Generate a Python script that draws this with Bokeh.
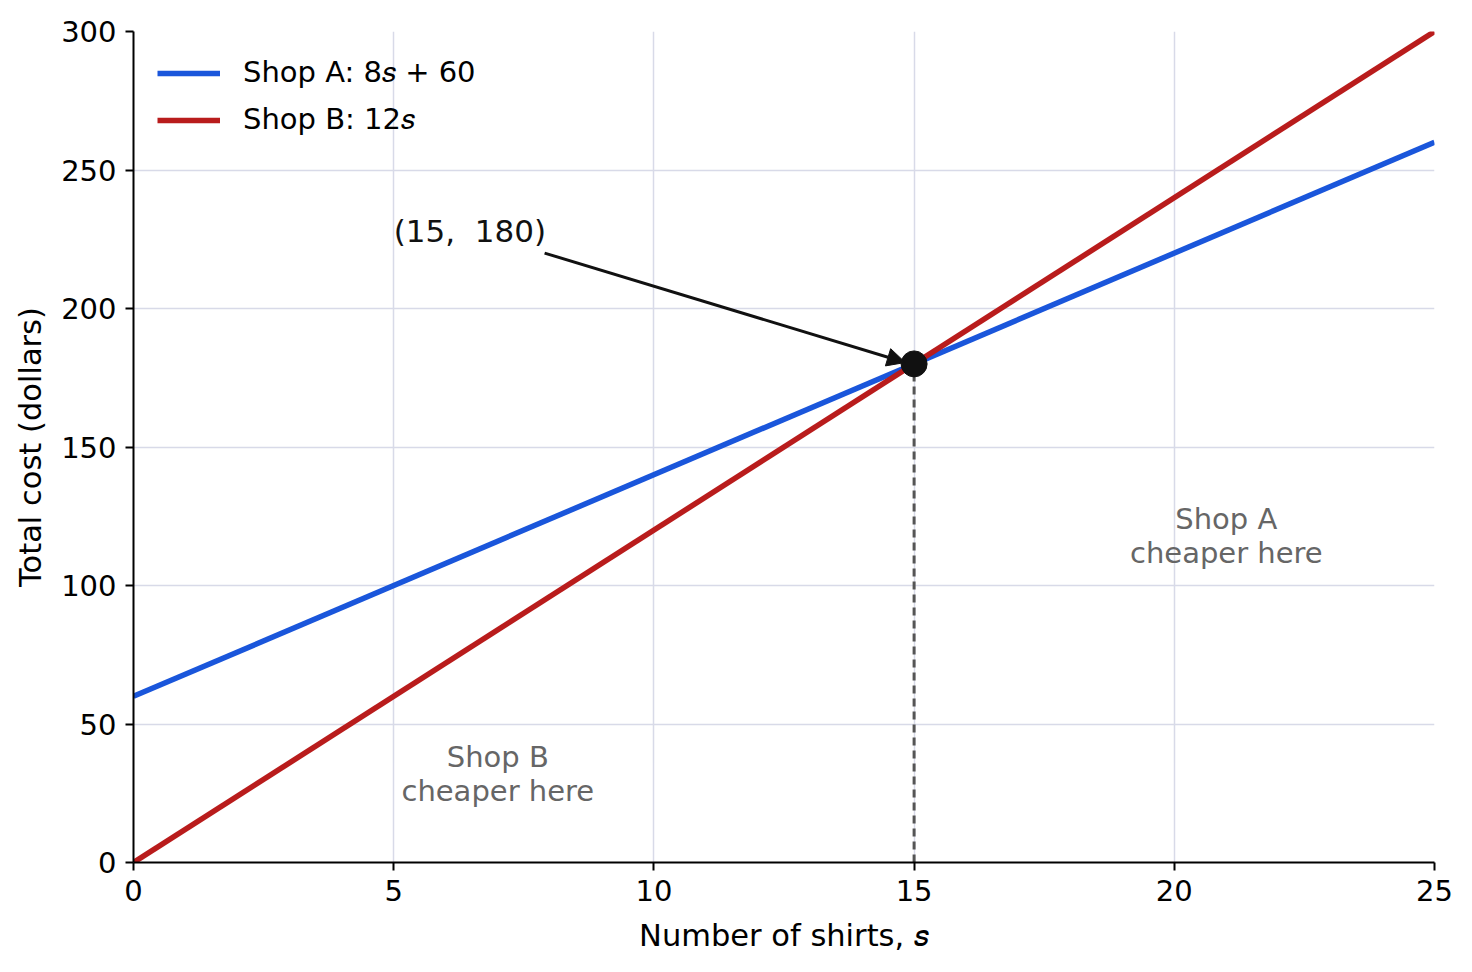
from bokeh.plotting import figure
from bokeh.models import Legend, LegendItem, Arrow, NormalHead, Label, FixedTicker
from bokeh.core.properties import value
from bokeh.embed import file_html
from bokeh.resources import INLINE

# data
shirts = [0, 25]
shop_a = [60, 260]      # 8s + 60
shop_b = [0, 300]       # 12s
meet_x = [15]
meet_y = [180]
x_ticks = [0, 5, 10, 15, 20, 25]
y_ticks = [0, 50, 100, 150, 200, 250, 300]

note_xy = (5.0, 228)
arrow_start = (7.9, 220)
arrow_end = (14.83, 180.5)
region_a_xy = (21.0, 118)
region_b_xy = (7.0, 32)

FONT = "DejaVu Sans"
ITS = "\U0001D460"  # mathematical italic small s

p = figure(frame_width=1301, frame_height=831, x_range=(0, 25), y_range=(0, 300),
           output_backend="svg", toolbar_location=None,
           min_border_left=133, min_border_top=31, min_border_right=30, min_border_bottom=40)
p.outline_line_color = None
p.background_fill_color = "white"

for ax in (p.xaxis[0], p.yaxis[0]):
    ax.axis_line_width = 2
    ax.axis_line_color = "black"
    ax.major_tick_line_width = 2
    ax.major_tick_line_color = "black"
    ax.major_tick_out = 8
    ax.major_tick_in = 0
    ax.minor_tick_line_color = None
    ax.major_label_text_font = FONT
    ax.major_label_text_font_size = "29px"
    ax.major_label_text_color = "black"
    ax.axis_label_text_font = FONT
    ax.axis_label_text_font_size = "30.5px"
    ax.axis_label_text_font_style = "normal"
    ax.axis_label_text_color = "black"

p.xaxis.ticker = FixedTicker(ticks=x_ticks)
p.yaxis.ticker = FixedTicker(ticks=y_ticks)
p.xaxis.axis_label = "Number of shirts, " + ITS
p.yaxis.axis_label = "Total cost (dollars)"
p.xaxis.major_label_standoff = 9
p.yaxis.major_label_standoff = 9
p.xaxis.axis_label_standoff = 14
p.yaxis.axis_label_standoff = 10

p.xgrid.grid_line_color = "#d8dae8"
p.ygrid.grid_line_color = "#d8dae8"
p.xgrid.grid_line_width = 1.5
p.ygrid.grid_line_width = 1.5

la = p.line(shirts, shop_a, line_color="#1a56db", line_width=5.5)
lb = p.line(shirts, shop_b, line_color="#b91c1c", line_width=5.5)

p.segment(x0=meet_x, y0=[0], x1=meet_x, y1=meet_y, line_color="#555555",
          line_width=3, line_dash="8 5")

p.add_layout(Arrow(x_start=arrow_start[0], y_start=arrow_start[1],
                   x_end=arrow_end[0], y_end=arrow_end[1],
                   line_color="#111111", line_width=3,
                   end=NormalHead(size=18, fill_color="#111111", line_color="#111111")))
p.scatter(meet_x, meet_y, size=26, color="#111111")

p.add_layout(Label(x=note_xy[0], y=note_xy[1], text="(15,\u00a0\u00a0180)", text_font=FONT,
                   text_font_size="31px", text_color="#111111",
                   text_align="left", text_baseline="middle"))

p.text(x=[region_a_xy[0]], y=[region_a_xy[1]], text=["Shop A\ncheaper here"],
       text_font=value(FONT), text_font_size="29px", text_color="#666666",
       text_align="center", text_baseline="middle", text_line_height=1.0)
p.text(x=[region_b_xy[0]], y=[region_b_xy[1]], text=["Shop B\ncheaper here"],
       text_font=value(FONT), text_font_size="29px", text_color="#666666",
       text_align="center", text_baseline="middle", text_line_height=1.0)

legend = Legend(items=[LegendItem(label="Shop A: 8" + ITS + " + 60", renderers=[la]),
                       LegendItem(label="Shop B: 12" + ITS, renderers=[lb])],
                location="top_left", border_line_color=None, background_fill_alpha=0,
                label_text_font=FONT, label_text_font_size="29px", label_text_color="black",
                glyph_width=63, glyph_height=30, label_standoff=23, spacing=12,
                margin=24, padding=0)
p.add_layout(legend)

open("out.html", "w").write(file_html(p, INLINE))
